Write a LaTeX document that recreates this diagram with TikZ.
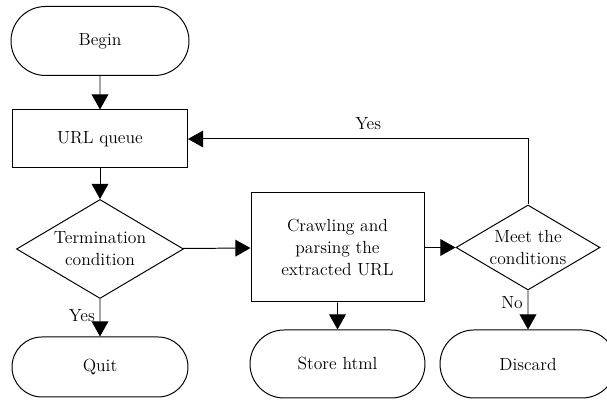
\documentclass[tikz,border=0pt]{standalone}
\usetikzlibrary{shapes.geometric,shapes.misc,arrows.meta}
\begin{document}
\begin{tikzpicture}[line width=0.7pt, >={Triangle[length=3.8mm,width=4.2mm]},
  font=\fontsize{12.5}{15.5}\selectfont,
  terminal/.style={rounded rectangle, draw, inner sep=0pt},
  process/.style={rectangle, draw, align=center, inner sep=0pt},
  decision/.style={diamond, draw, align=center, inner sep=0pt, shape aspect=1.7}]
  \clip (0,0) rectangle (15.175,10);
  % left column
  \node[terminal, minimum width=4.45cm, minimum height=1.725cm] (begin) at (2.5,8.975) {Begin};
  \node[process, minimum width=4.375cm, minimum height=1.45cm] (queue) at (2.5,6.525) {URL queue};
  \node[decision, minimum width=4.175cm, minimum height=2.475cm] (termcond) at (2.5,3.775) {Termination\\condition};
  \node[terminal, minimum width=4.4cm, minimum height=1.5cm] (quit) at (2.5,0.825) {Quit};
  % middle and right
  \node[process, minimum width=4.325cm, minimum height=2.725cm] (crawl) at (8.4375,3.8125) {Crawling and\\parsing the\\extracted URL};
  \node[decision, minimum width=3.6cm, minimum height=2.125cm] (meet) at (13.2,3.8125) {Meet the\\conditions};
  \node[terminal, minimum width=4.375cm, minimum height=1.7cm] (store) at (8.4375,0.9) {Store html};
  \node[terminal, minimum width=4.4cm, minimum height=1.7cm] (discard) at (13.2,0.9) {Discard};
  % connectors
  \draw[->] (begin) -- (queue);
  \draw[->] (queue) -- (termcond);
  \draw[->] (termcond) -- node[left, pos=0.45] {Yes} (quit);
  \draw[->] (termcond) -- (crawl);
  \draw[->] (crawl) -- (store);
  \draw[->] (crawl) -- (meet);
  \draw[->] (meet) -- node[left, pos=0.3] {No} (discard);
  \draw[->] (meet.north) |- node[above=3pt, pos=0.735] {Yes} (queue.east);
\end{tikzpicture}
\end{document}
